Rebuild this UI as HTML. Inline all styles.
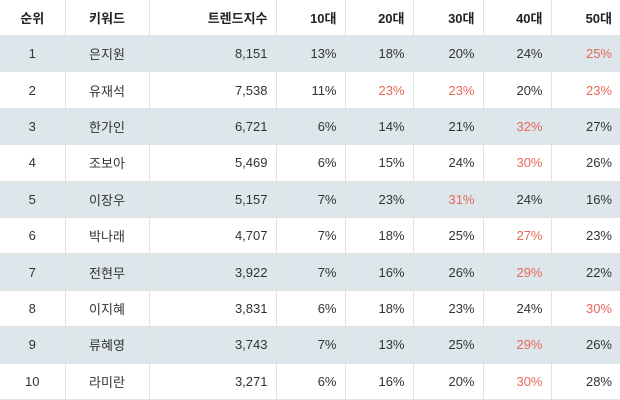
<!DOCTYPE html>
<html><head><meta charset="utf-8"><style>
body{margin:0;width:620px;height:400px;background:#fff;overflow:hidden}
table{border-collapse:collapse;width:620px;table-layout:fixed;font-family:"Liberation Sans","Noto Sans CJK KR",sans-serif;font-size:13px;color:#333}
td,th{border:1px solid #e2e2e2;padding:0 8px;height:35.4px}
th{height:35px;font-weight:bold;color:#222}
tr.alt td{background:#dce6eb}
.c{text-align:center}.r{text-align:right}
.red{color:#e8685a}
tr:first-child th{border-top:none}
td:first-child,th:first-child{border-left:none}
td:last-child,th:last-child{border-right:none}
</style></head><body>
<table>
<colgroup><col style="width:65px"><col style="width:84px"><col style="width:127px"><col style="width:69px"><col style="width:68px"><col style="width:70px"><col style="width:68px"><col style="width:69px"></colgroup>
<thead><tr>
<th class="c">순위</th>
<th class="c">키워드</th>
<th class="r">트렌드지수</th>
<th class="r">10대</th>
<th class="r">20대</th>
<th class="r">30대</th>
<th class="r">40대</th>
<th class="r">50대</th>
</tr></thead>
<tbody id="tb"></tbody></table>
<script>
const names=["은지원","유재석","한가인","조보아","이장우","박나래","전현무","이지혜","류혜영","라미란"];
const scores=["8,151","7,538","6,721","5,469","5,157","4,707","3,922","3,831","3,743","3,271"];
const p10=[13,11,6,6,7,7,7,6,7,6];
const p20=[18,23,14,15,23,18,16,18,13,16];
const p30=[20,23,21,24,31,25,26,23,25,20];
const p40=[24,20,32,30,24,27,29,24,29,30];
const p50=[25,23,27,26,16,23,22,30,26,28];
const tb=document.getElementById('tb');
names.forEach((n,i)=>{
  const tr=document.createElement('tr');
  
  
  if(i%2===0)tr.className='alt';
  const ages=[p10[i],p20[i],p30[i],p40[i],p50[i]];
  const mx=Math.max(...ages.slice(1));
  let h='<td class="c">'+(i+1)+'</td><td class="c">'+n+'</td><td class="r">'+scores[i]+'</td>';
  ages.forEach((v,k)=>{h+='<td class="r'+(k>0&&v===mx?' red':'')+'">'+v+'%</td>';});
  tr.innerHTML=h;
  tb.appendChild(tr);
});
</script>
</body></html>
